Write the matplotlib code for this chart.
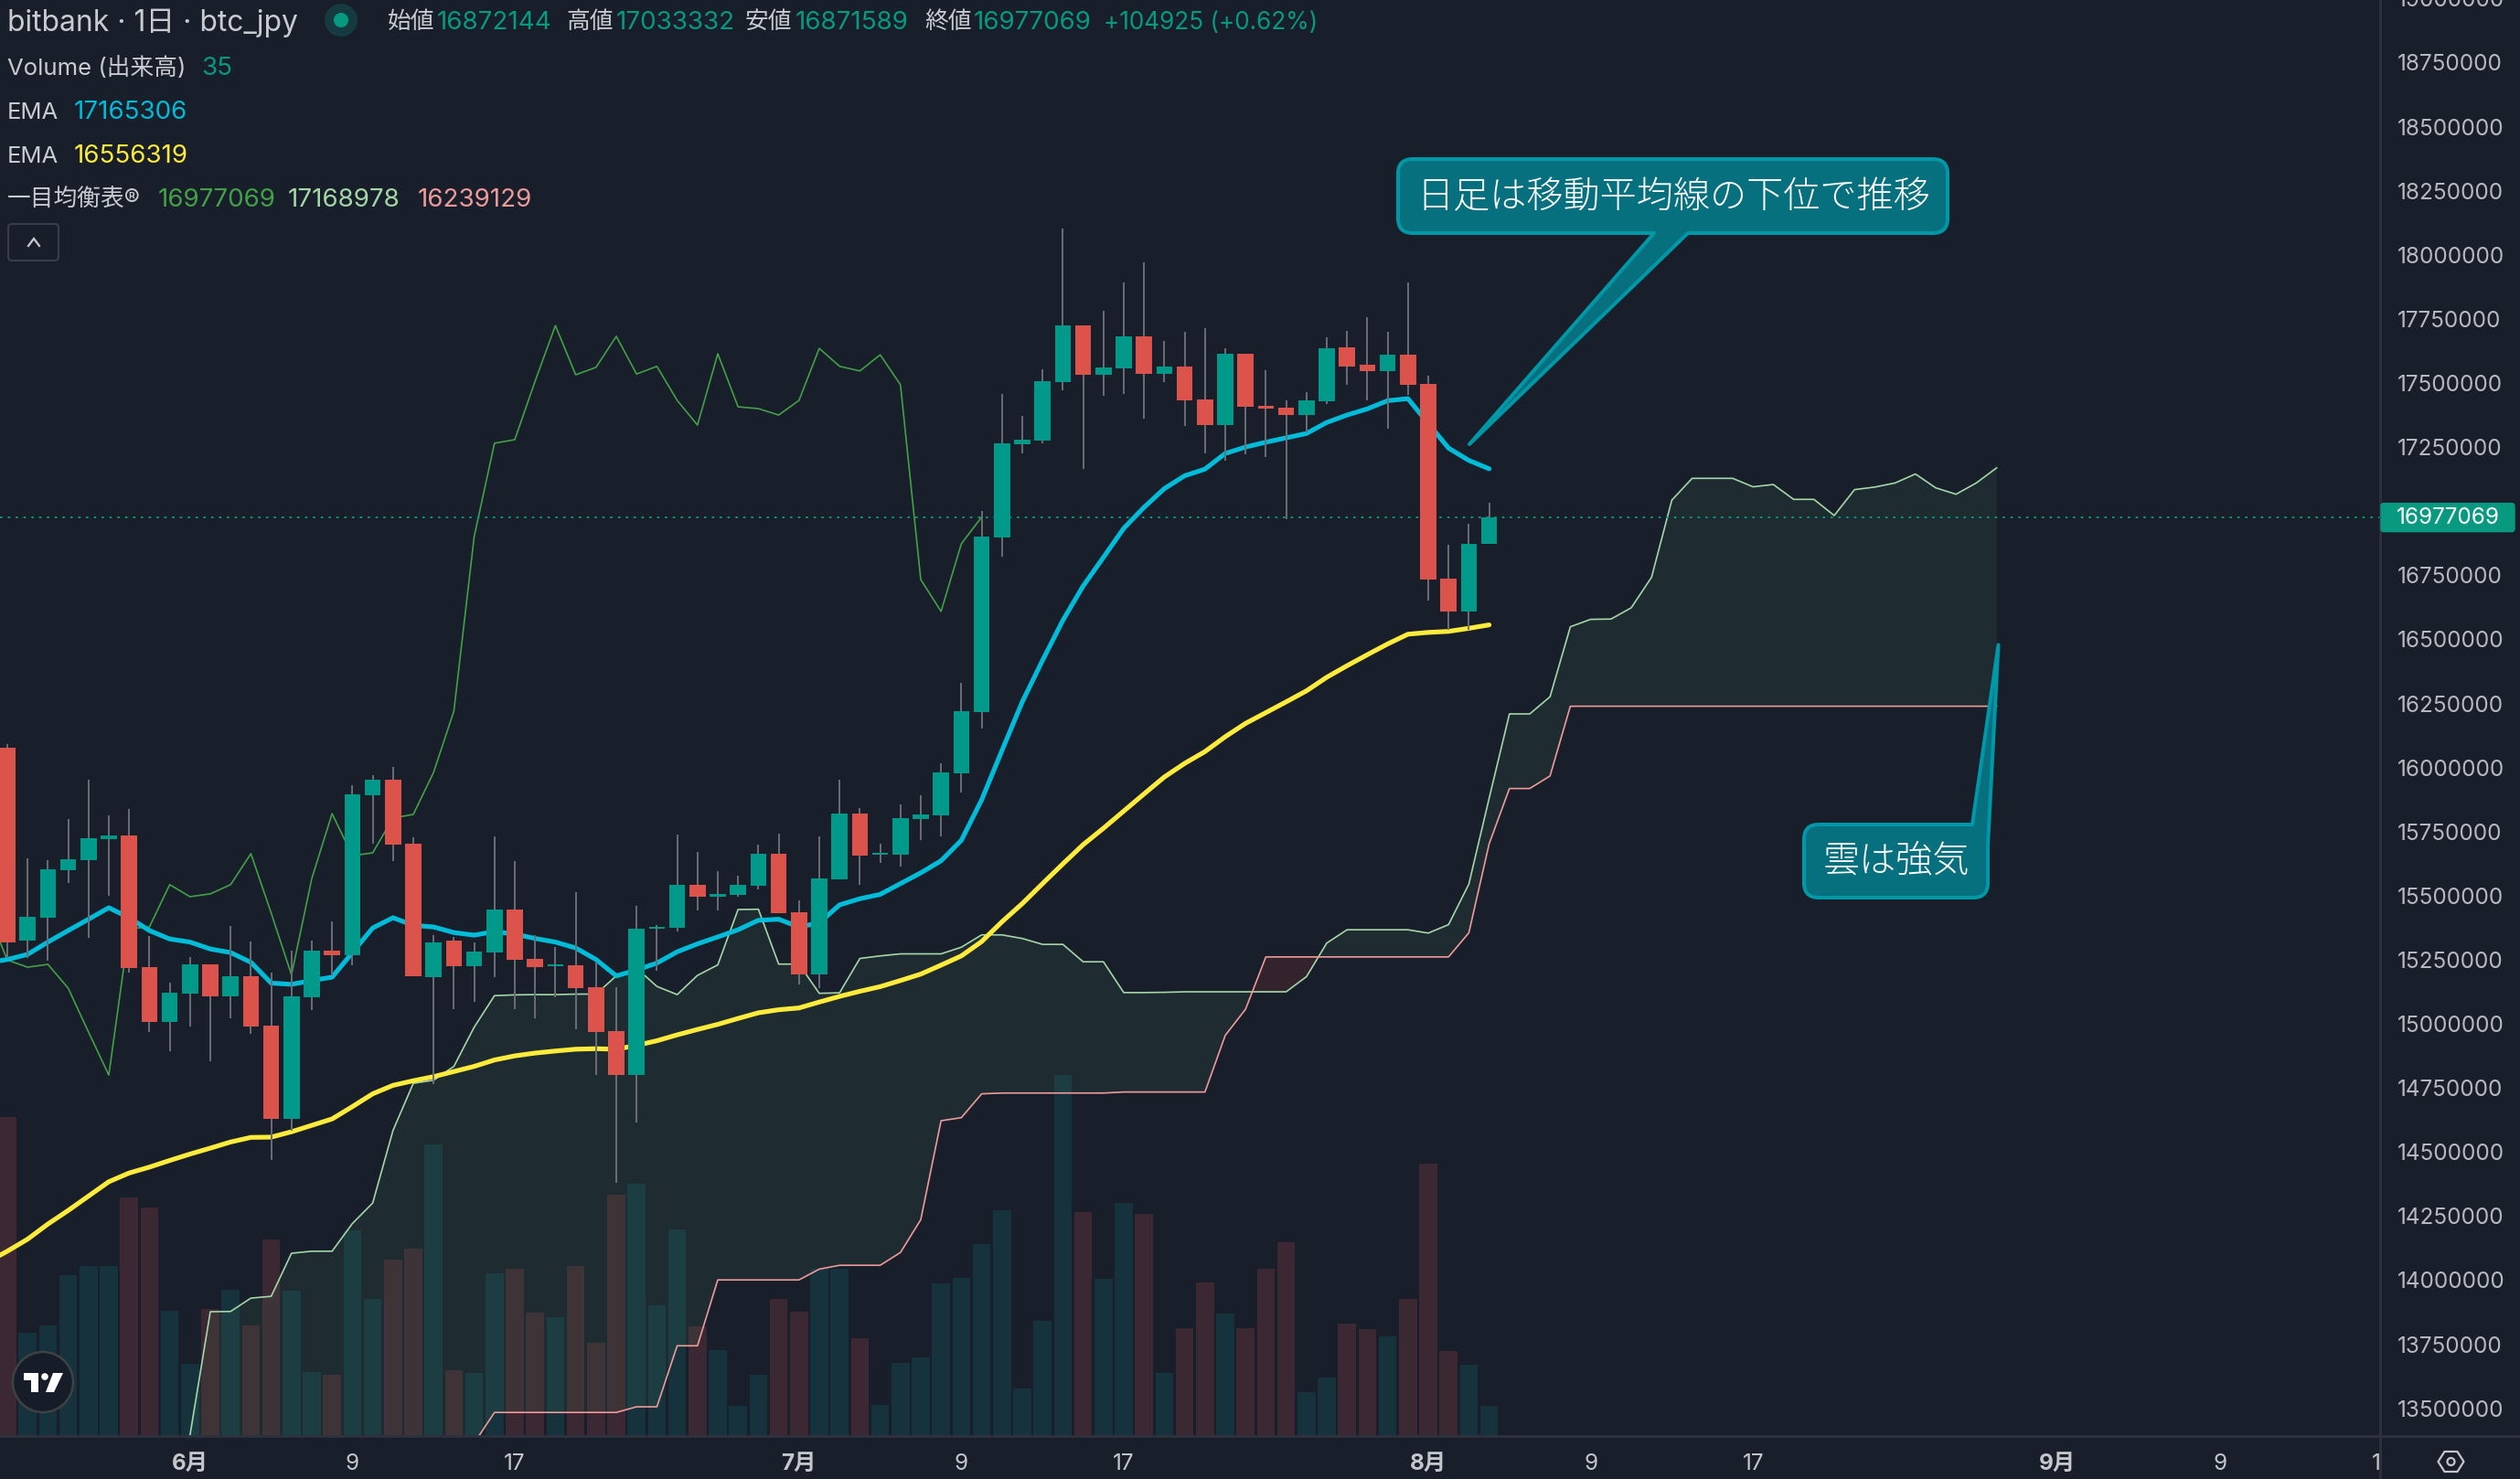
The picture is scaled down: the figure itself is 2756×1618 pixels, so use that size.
import numpy as np
import matplotlib
matplotlib.use("Agg")
import matplotlib.pyplot as plt
from matplotlib.path import Path
from matplotlib.patches import PathPatch, Circle, FancyBboxPatch, Polygon
from matplotlib.transforms import Bbox

plt.rcParams['font.family'] = ['Inter', 'Noto Sans CJK JP', 'DejaVu Sans']
CJK = ['Noto Sans CJK JP', 'DejaVu Sans']

# Daily candles, thousands of JPY, first bar is 23 May
open_ = [16078,15324,15415,15600,15638,15722,15735,15221,15008,15118,15232,15107,15185,14993,14630,15103,15286,15267,15892,15952,
         15703,15182,15324,15225,15278,15446,15253,15226,15229,15143,14972,14800,15371,15375,15543,15496,15503,15539,15664,15435,
         15191,15565,15820,15660,15660,15799,15813,15977,16217,16898,17262,17276,17504,17724,17532,17556,17682,17535,17565,17435,
         17336,17614,17411,17404,17375,17428,17640,17572,17547,17610,17496,16737,16609,16872.144]
close = [15319,15417,15603,15642,15724,15735,15218,15008,15121,15232,15107,15185,14990,14630,15107,15286,15267,15895,15952,15700,
         15185,15318,15225,15282,15446,15249,15221,15232,15139,14968,14800,15371,15378,15543,15496,15507,15543,15664,15432,15191,
         15567,15820,15656,15667,15803,15817,15981,16220,16901,17265,17279,17507,17724,17532,17561,17682,17535,17565,17432,17336,
         17614,17407,17400,17375,17432,17635,17565,17547,17610,17493,16733,16609,16873,16977.069]
high = [16093,15645,15638,15799,15952,15813,15839,15342,15161,15260,15232,15382,15322,15200,15285,15324,15399,15930,15970,16003,
        15728,15346,15339,15318,15731,15636,15346,15301,15514,15241,15143,15461,15387,15738,15671,15596,15578,15700,15742,15481,
        15731,15952,15842,15703,15856,15892,16017,16330,17001,17458,17372,17554,18101,17724,17782,17892,17971,17664,17700,17714,
        17635,17614,17549,17432,17465,17678,17703,17757,17700,17892,17528,16868,16952,17033.332]
low = [15257,15257,15247,15550,15337,15500,15200,14968,14893,14990,14853,15021,14961,14469,14582,15054,15189,15229,15701,15636,
       15185,14766,15057,15086,15182,15057,15021,15102,14979,14800,14381,14615,15207,15360,15443,15443,15496,15526,15432,15154,
       15139,15565,15543,15628,15614,15717,15731,15902,16153,16823,17225,17265,17473,17163,17451,17458,17360,17504,17332,17225,
       17197,17222,17211,16968,17307,17418,17493,17432,17322,17452,16651,16538,16538,16871.589]
volume = [370,119,128,186,197,197,276,265,145,83,147,169,128,228,168,74,71,238,159,204,
          217,338,76,73,188,194,143,137,197,108,280,292,151,239,127,99,35,71,159,144,
          194,194,113,36,84,91,177,183,222,261,55,133,418,259,182,270,257,73,125,178,
          142,125,194,224,50,67,130,124,115,159,316,98,82,35]
# EMA series start one bar earlier (bar -1), at the left edge of the pane
ema_fast = [15238,15251,15271,15319,15364,15408,15453,15414,15364,15331,15319,15292,15278,15240,15159,15154,15169,15182,15278,15374,15414,
            15384,15378,15356,15346,15360,15350,15333,15319,15296,15251,15187,15210,15237,15281,15312,15339,15367,15404,15408,15378,
            15394,15464,15488,15505,15547,15589,15636,15716,15874,16066,16256,16418,16574,16708,16820,16933,17015,17088,17138,17164,
            17225,17250,17269,17286,17303,17346,17375,17399,17431,17439,17342,17246,17198,17165.306]
ema_slow = [14070,14113,14160,14219,14272,14328,14384,14418,14441,14467,14492,14515,14539,14557,14558,14579,14604,14629,14677,14727,14760,
            14778,14794,14814,14834,14859,14875,14886,14894,14901,14903,14901,14916,14934,14957,14978,14998,15021,15043,15055,15062,
            15085,15107,15127,15145,15169,15194,15229,15265,15321,15398,15469,15547,15624,15699,15763,15830,15897,15963,16016,16062,
            16120,16172,16214,16256,16299,16352,16397,16440,16482,16520,16527,16531,16543,16556.319]
# Senkou spans run from bar 9 to bar 98; span B sits under the pane until bar 23
span_a = [13395,13877,13878,13930,13937,14105,14113,14113,14221,14301,14584,14768,14780,14834,14987,15110,15113,15114,15114,15116,
          15116,15187,15217,15146,15114,15189,15230,15446,15447,15233,15233,15119,15121,15255,15265,15273,15273,15273,15299,15347,
          15347,15333,15310,15310,15242,15242,15122,15122,15123,15125,15125,15125,15125,15125,15125,15184,15315,15367,15367,15367,
          15367,15354,15387,15545,15880,16209,16209,16276,16549,16578,16579,16623,16742,17043,17128,17128,17128,17095,17104,17046,
          17046,16983,17084,17094,17110,17145,17091,17066,17110,17168.978]
span_b = [13200,13200,13200,13200,13200,13200,13200,13200,13200,13200,13200,13200,13200,13200,13365,13484,13484,13484,13484,13484,
          13484,13484,13506,13506,13744,13744,14001,14001,14001,14001,14001,14043,14058,14058,14058,14108,14236,14622,14634,14727,
          14730,14730,14730,14730,14730,14730,14734,14734,14734,14734,14734,14955,15057,15261,15261,15261,15261,15261,15261,15261,
          15261,15261,15261,15355,15702,15918,15918,15967,16239,16239,16239,16239,16239,16239,16239,16239,16239,16239,16239,16239,
          16239,16239,16239,16239,16239,16239,16239,16239,16239,16239.129]
# Date ticks: bar number and label, months drawn bold
date_ticks = [(9, '6月', True), (17, '9', False), (25, '17', False), (39, '7月', True), (47, '9', False),
              (55, '17', False), (70, '8月', True), (78, '9', False), (86, '17', False), (101, '9月', True),
              (109, '9', False), (117, '17', False)]
# 17000000 is hidden by the last-price tag in the reference
price_ticks = [13500,13750,14000,14250,14500,14750,15000,15250,15500,15750,16000,16250,16500,16750,
               17250,17500,17750,18000,18250,18500,18750]
last_price = 16977.069

W, H = 2756, 1618
BG = '#181F2B'
UP, DOWN = '#00998A', '#DC534B'
VOL_UP, VOL_DOWN = '#16323C', '#3C2832'
RULE = '#2E323E'
TXT = '#C9CBD1'
TEAL = '#089981'
CYAN, YELLOW = '#00BCD9', '#FFEB3B'
CHIKOU, SA, SB = '#43A047', '#A5D6A7', '#EF9A9A'

PANE_R, PANE_B = 2603, 1570.5
PPX = 22.2            # pixels per bar
X0 = 8.0              # pixel of bar 0
PX_PER_K = 0.28043    # pixels per thousand JPY
Y_13500 = 1540.7

fig = plt.figure(figsize=(W / 100, H / 100), dpi=100, facecolor=BG)
rect = [0, 1 - PANE_B / H, PANE_R / W, PANE_B / H]
ax_v = fig.add_axes(rect, zorder=1, facecolor=BG)
ax = fig.add_axes(rect, zorder=2)
ax.patch.set_visible(False)
ov = fig.add_axes([0, 0, 1, 1], zorder=5)
ov.patch.set_visible(False)
ov.set_xlim(0, W); ov.set_ylim(H, 0); ov.axis('off')

xlim = (-X0 / PPX, (PANE_R - X0) / PPX)
for a in (ax, ax_v):
    a.set_xlim(*xlim)
    a.set_xticks([])
    for s in a.spines.values():
        s.set_visible(False)
ax.set_ylim(13500 - (PANE_B - Y_13500) / PX_PER_K, 13500 + Y_13500 / PX_PER_K)
ax_v.set_ylim(0, PANE_B * 35 / 33)
ax_v.set_yticks([])

x = np.arange(len(close))
o, c, hi, lo = map(np.array, (open_, close, high, low))
up = c >= o

ax_v.bar(x, volume, width=0.89, color=[VOL_UP if u else VOL_DOWN for u in up], linewidth=0)

xs = np.arange(9, 9 + len(span_a))
a_, b_ = np.array(span_a), np.array(span_b)
ax.fill_between(xs, a_, b_, where=a_ >= b_, interpolate=True, color='#54A171', alpha=0.10, linewidth=0, zorder=1)
ax.fill_between(xs, a_, b_, where=a_ <= b_, interpolate=True, color='#F44336', alpha=0.12, linewidth=0, zorder=1)
ax.plot(xs, a_, color=SA, lw=1.2, zorder=2)
ax.plot(xs, b_, color=SB, lw=1.2, zorder=2)
# the lagging span is the close drawn 25 bars back
ax.plot(np.arange(-1, 49), c[24:], color=CHIKOU, lw=1.2, zorder=2)
xe = np.arange(-1, len(close))
ax.plot(xe, ema_slow, color=YELLOW, lw=3.7, zorder=3, solid_capstyle='round', solid_joinstyle='round')
ax.plot(xe, ema_fast, color=CYAN, lw=3.7, zorder=3, solid_capstyle='round', solid_joinstyle='round')
ax.axhline(last_price, color=TEAL, lw=1.4, dashes=(1.3, 3.1), zorder=2.5)
ax.vlines(x, lo, hi, color='#6C6E76', lw=1.4, zorder=4)
ax.bar(x, np.abs(c - o), bottom=np.minimum(o, c), width=0.8,
       color=[UP if u else DOWN for u in up], linewidth=0, zorder=5)

# axis rules
ov.plot([PANE_R, PANE_R], [0, H], color=RULE, lw=2)
ov.plot([0, W], [PANE_B, PANE_B], color=RULE, lw=2)

# price scale
ax.yaxis.tick_right()
ax.set_yticks(price_ticks)
ax.set_yticklabels([f'{p * 1000:d}' for p in price_ticks],
                   color='#B6B9BF', fontsize=17.5, fontfamily='Inter')
ax.tick_params(axis='y', length=0, pad=13.5)
ov.text(2622, Y_13500 - (19000 - 13500) * PX_PER_K, '19000000', color='#B6B9BF', fontsize=17.5, va='center_baseline', ha='left')

# price tag
yp = Y_13500 - (last_price - 13500) * PX_PER_K
ov.add_patch(FancyBboxPatch((2604, yp - 15), 146, 31, boxstyle='round,pad=0,rounding_size=3',
                            fc=TEAL, ec=TEAL, lw=1, zorder=6))
ov.text(2677, yp + 1, f'{int(last_price * 1000)}', color='white', fontsize=17.5, ha='center', va='center', zorder=7)

# date scale
for bar, label, bold in date_ticks:
    t = ov.text(X0 + PPX * bar, 1601, label, color='#C4C6CC', fontsize=17.5, ha='center', va='center',
                fontweight='bold' if bold else 'normal', family=['Inter'] + CJK)
    t.set_clip_on(True)
    t.set_clip_box(Bbox([[0, 0], [PANE_R - 1, H]]))

# settings icon
cx, cy = 2680.5, 1599
ov.add_patch(Polygon([(cx - 14, cy), (cx - 7, cy - 11), (cx + 7, cy - 11), (cx + 14, cy), (cx + 7, cy + 11), (cx - 7, cy + 11)],
                     closed=True, fc='none', ec='#C4C6CC', lw=1.6, joinstyle='round'))
ov.add_patch(Circle((cx, cy), 4, fc='none', ec='#C4C6CC', lw=1.6))

# header
LAB, VAL = 18.5, 20
ov.text(8, 25, 'bitbank · 1日 · btc_jpy', color=TXT, fontsize=22.9, va='center', ha='left')
ov.add_patch(Circle((373, 22), 18, fc='#153A40', ec='none'))
ov.add_patch(Circle((373, 22), 8, fc=TEAL, ec='none'))
for lx, lab, vx, val in [(424, '始値', 478, '16872144'), (619, '高値', 674, '17033332'),
                         (815, '安値', 870, '16871589'), (1011, '終値', 1065, '16977069')]:
    ov.text(lx, 24, lab, color=TXT, fontsize=LAB, va='center', ha='left')
    ov.text(vx, 25, val, color=TEAL, fontsize=VAL, va='center', ha='left')
ov.text(1207, 25, '+104925 (+0.62%)', color=TEAL, fontsize=18.8, va='center', ha='left')
ov.text(8, 75, 'Volume (出来高)', color=TXT, fontsize=LAB, va='center', ha='left')
ov.text(220, 75, '35', color=TEAL, fontsize=VAL, va='center', ha='left')
ov.text(8, 123, 'EMA', color=TXT, fontsize=LAB, va='center', ha='left')
ov.text(81, 123, '17165306', color=CYAN, fontsize=VAL, va='center', ha='left')
ov.text(8, 171, 'EMA', color=TXT, fontsize=LAB, va='center', ha='left')
ov.text(81, 171, '16556319', color=YELLOW, fontsize=VAL, va='center', ha='left')
ov.text(8, 219, '一目均衡表®', color=TXT, fontsize=LAB, va='center', ha='left')
ov.text(173, 219, '16977069', color=CHIKOU, fontsize=VAL, va='center', ha='left')
ov.text(315, 219, '17168978', color=SA, fontsize=VAL, va='center', ha='left')
ov.text(457, 219, '16239129', color=SB, fontsize=VAL, va='center', ha='left')
ov.add_patch(FancyBboxPatch((9, 245), 55, 40, boxstyle='round,pad=0,rounding_size=4', fc=BG, ec='#3A3E49', lw=1.4))
ov.plot([31, 37, 43], [269, 261, 269], color=TXT, lw=1.6, solid_joinstyle='miter')


def callout(x0, y0, x1, y1, r, tail_top=None, tail_bottom=None):
    """Rounded box; tail_top = (base x, tip, point on right edge), tail_bottom = (base right x, tip, base left x)."""
    M, L, Q, C = Path.MOVETO, Path.LINETO, Path.CURVE3, Path.CLOSEPOLY
    v = [(x0 + r, y0)]; k = [M]
    if tail_top:
        bx, tip, rp = tail_top
        v += [(bx, y0), tip, rp]; k += [L, L, L]
    else:
        v += [(x1 - r, y0), (x1, y0), (x1, y0 + r)]; k += [L, Q, Q]
    v += [(x1, y1 - r), (x1, y1), (x1 - r, y1)]; k += [L, Q, Q]
    if tail_bottom:
        br, tip, bl = tail_bottom
        v += [(br, y1), tip, (bl, y1)]; k += [L, L, L]
    v += [(x0 + r, y1), (x0, y1), (x0, y1 - r), (x0, y0 + r), (x0, y0), (x0 + r, y0), (x0 + r, y0)]
    k += [L, Q, Q, L, Q, Q, C]
    ov.add_patch(PathPatch(Path(v, k), fc='#06707F', ec='#0097A7', lw=2.9, joinstyle='round', zorder=6))


callout(1529, 174, 2130, 255, 16, tail_bottom=(1846, (1607, 486), 1809))
ov.text(1830, 216, '日足は移動平均線の下位で推移', color='white', fontsize=28.9, ha='center', va='center',
        family=CJK, fontweight='light', zorder=7)
callout(1973, 902, 2174, 982, 16, tail_top=(2157, (2185.5, 705.5), (2174, 925)))
ov.text(2074, 942, '雲は強気', color='white', fontsize=28.9, ha='center', va='center',
        family=CJK, fontweight='light', zorder=7)

# TradingView badge
ov.add_patch(Circle((47, 1512), 33, fc='#161C28', ec='#3D4244', lw=1.8, zorder=6))
ov.add_patch(Polygon([(26, 1502), (42, 1502), (42, 1523), (34, 1523), (34, 1510), (26, 1510)], closed=True, fc='white', ec='none', zorder=7))
ov.add_patch(Circle((49, 1506), 3.8, fc='white', ec='none', zorder=7))
ov.add_patch(Polygon([(58, 1502), (69, 1502), (59, 1523), (50, 1523)], closed=True, fc='white', ec='none', zorder=7))

fig.savefig('out.png', dpi=100, facecolor=BG)
